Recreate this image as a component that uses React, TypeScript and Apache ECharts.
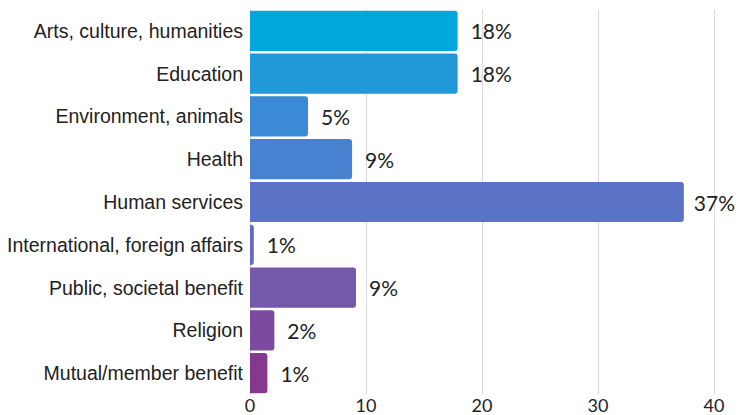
import React, { useEffect, useRef } from "react";
import * as echarts from "echarts";

const categories = [
  "Arts, culture, humanities",
  "Education",
  "Environment, animals",
  "Health",
  "Human services",
  "International, foreign affairs",
  "Public, societal benefit",
  "Religion",
  "Mutual/member benefit",
];
const values = [17.9, 17.9, 5.0, 8.8, 37.4, 0.33, 9.14, 2.1, 1.5];
const labels = ["18%", "18%", "5%", "9%", "37%", "1%", "9%", "2%", "1%"];
const colors = [
  "#00a6dc",
  "#2198d8",
  "#3a8ad6",
  "#4a82d2",
  "#5a73c6",
  "#6a68c2",
  "#7458aa",
  "#7c4a9f",
  "#84388e",
];
const xTicks = [0, 10, 20, 30, 40];

export default function App() {
  const ref = useRef<HTMLDivElement>(null);
  useEffect(() => {
    document.body.style.margin = "0";
    const chart = echarts.init(ref.current!, null, { renderer: "svg" });
    chart.setOption({
      animation: false,
      grid: { left: 250, right: 24, top: 9.5, bottom: 20.5, containLabel: false },
      xAxis: {
        type: "value",
        min: xTicks[0],
        max: xTicks[xTicks.length - 1],
        interval: 10,
        axisLine: { show: false },
        axisTick: { show: false },
        splitLine: { lineStyle: { color: "#dcdcdc", width: 1 } },
        axisLabel: {
          color: "#222",
          fontFamily: "Lato",
          fontSize: 18,
          lineHeight: 14,
          margin: 3,
        },
      },
      yAxis: {
        type: "category",
        inverse: true,
        data: categories,
        axisLine: { show: false },
        axisTick: { show: false },
        axisLabel: {
          color: "#222",
          fontFamily: "Liberation Sans",
          fontSize: 19.5,
          margin: 7,
        },
      },
      series: [
        {
          type: "bar",
          barCategoryGap: "6%",
          data: values.map((v, i) => ({
            value: v,
            itemStyle: { color: colors[i], borderRadius: [0, 3, 3, 0] },
            label: i === 4 ? { distance: 10 } : undefined,
          })),
          label: {
            show: true,
            position: "right",
            distance: 13,
            color: "#222",
            fontFamily: "Lato",
            fontSize: 21,
            formatter: (p: any) => labels[p.dataIndex],
          },
        },
      ],
    });
    return () => chart.dispose();
  }, []);
  return <div ref={ref} style={{ width: 738, height: 415 }} />;
}
